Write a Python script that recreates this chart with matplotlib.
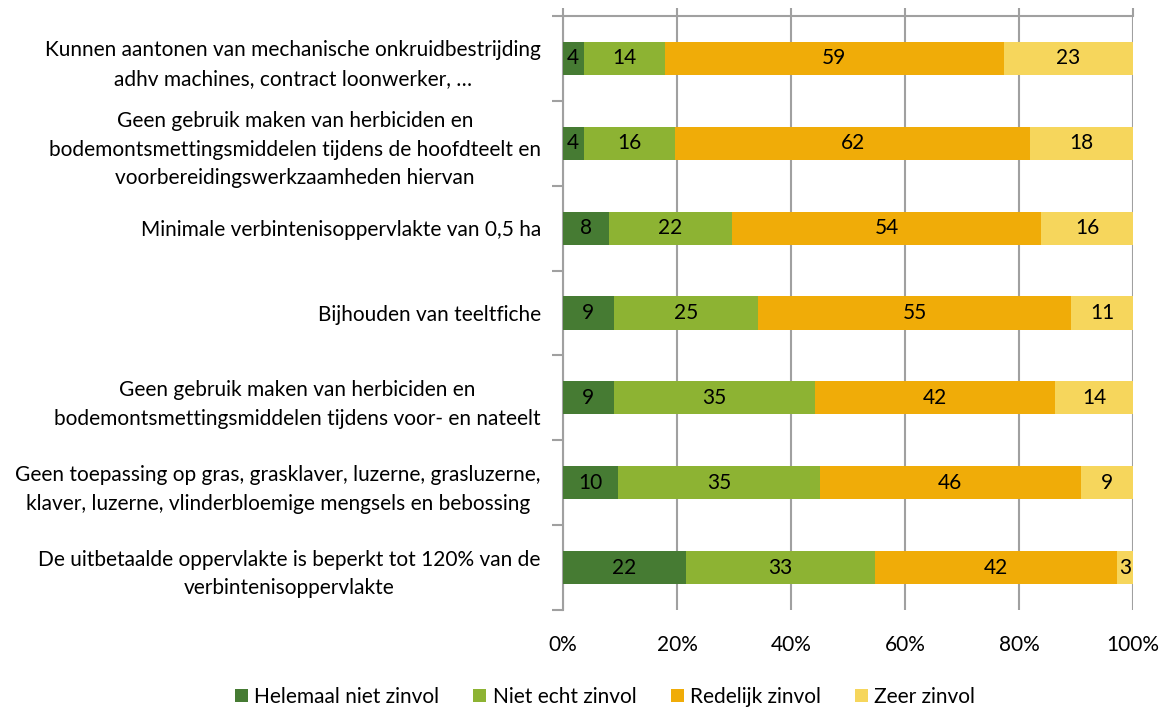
import numpy as np
import matplotlib

matplotlib.use("Agg")
import matplotlib.pyplot as plt
from matplotlib.patches import Patch

plt.rcParams["font.family"] = ["Lato", "DejaVu Sans"]

categories = [
    "Kunnen aantonen van mechanische onkruidbestrijding\nadhv machines, contract loonwerker, …",
    "Geen gebruik maken van herbiciden en\nbodemontsmettingsmiddelen tijdens de hoofdteelt en\nvoorbereidingswerkzaamheden hiervan",
    "Minimale verbintenisoppervlakte van 0,5 ha",
    "Bijhouden van teeltfiche",
    "Geen gebruik maken van herbiciden en\nbodemontsmettingsmiddelen tijdens voor- en nateelt",
    "Geen toepassing op gras, grasklaver, luzerne, grasluzerne,\nklaver, luzerne, vlinderbloemige mengsels en bebossing",
    "De uitbetaalde oppervlakte is beperkt tot 120% van de\nverbintenisoppervlakte",
]
series = ["Helemaal niet zinvol", "Niet echt zinvol", "Redelijk zinvol", "Zeer zinvol"]
helemaal_niet = [3.6, 3.6, 8.0, 8.9, 8.9, 9.7, 21.5]
niet_echt = [14.3, 16.1, 21.7, 25.3, 35.3, 35.3, 33.3]
redelijk = [59.4, 62.3, 54.2, 55.0, 42.2, 45.9, 42.4]
zeer = [22.7, 18.0, 16.1, 10.8, 13.6, 9.1, 2.8]
labels = [
    [4, 4, 8, 9, 9, 10, 22],
    [14, 16, 22, 25, 35, 35, 33],
    [59, 62, 54, 55, 42, 46, 42],
    [23, 18, 16, 11, 14, 9, 3],
]
colors = ["#467b33", "#8db333", "#f0ac08", "#f6d65c"]

FS = 15
values = np.array([helemaal_niet, niet_echt, redelijk, zeer])
y = np.arange(len(categories))

fig = plt.figure(figsize=(11.6, 7.08), dpi=100)
ax = fig.add_axes([563 / 1160, 1 - 610 / 708, 570 / 1160, 594 / 708])

left = np.zeros(len(categories))
for i, name in enumerate(series):
    ax.barh(y, values[i], left=left, height=0.39, color=colors[i], label=name, zorder=3)
    for j in range(len(categories)):
        ax.text(left[j] + values[i][j] / 2, y[j], str(labels[i][j]),
                ha="center", va="center", fontsize=FS, color="black", zorder=4)
    left += values[i]

ax.set_xlim(0, 100)
ax.set_ylim(len(categories) - 0.5, -0.5)
ax.set_xticks(np.arange(0, 101, 20))
ax.set_xticklabels([f"{t}%" for t in range(0, 101, 20)])
ax.xaxis.grid(True, color="#a0a0a0", linewidth=1.5, zorder=0)
ax.tick_params(axis="x", which="major", top=True, bottom=False, labeltop=False,
               labelbottom=True, direction="out", length=6, width=1.5,
               color="#a0a0a0", labelsize=FS, pad=12)

ax.set_yticks(y)
ax.set_yticklabels(categories, ha="right", multialignment="center",
                   fontsize=FS, linespacing=1.55)
ax.set_yticks(np.arange(-0.5, len(categories)), minor=True)
ax.tick_params(axis="y", which="major", length=0, pad=16)
ax.tick_params(axis="y", which="minor", length=8, width=1.5, color="#a0a0a0",
               direction="out")

for side in ["right", "bottom"]:
    ax.spines[side].set_visible(False)
for side in ["left", "top"]:
    ax.spines[side].set_color("#a0a0a0")
    ax.spines[side].set_linewidth(1.5)

handles = [Patch(facecolor=c, label=s) for c, s in zip(colors, series)]
fig.legend(handles=handles, loc="center", bbox_to_anchor=(0.5216, 11 / 708), ncol=4,
           frameon=False, fontsize=FS, handlelength=0.62, handleheight=0.62,
           handletextpad=0.3, columnspacing=1.65, borderpad=0)

fig.savefig("out.png", dpi=100)
